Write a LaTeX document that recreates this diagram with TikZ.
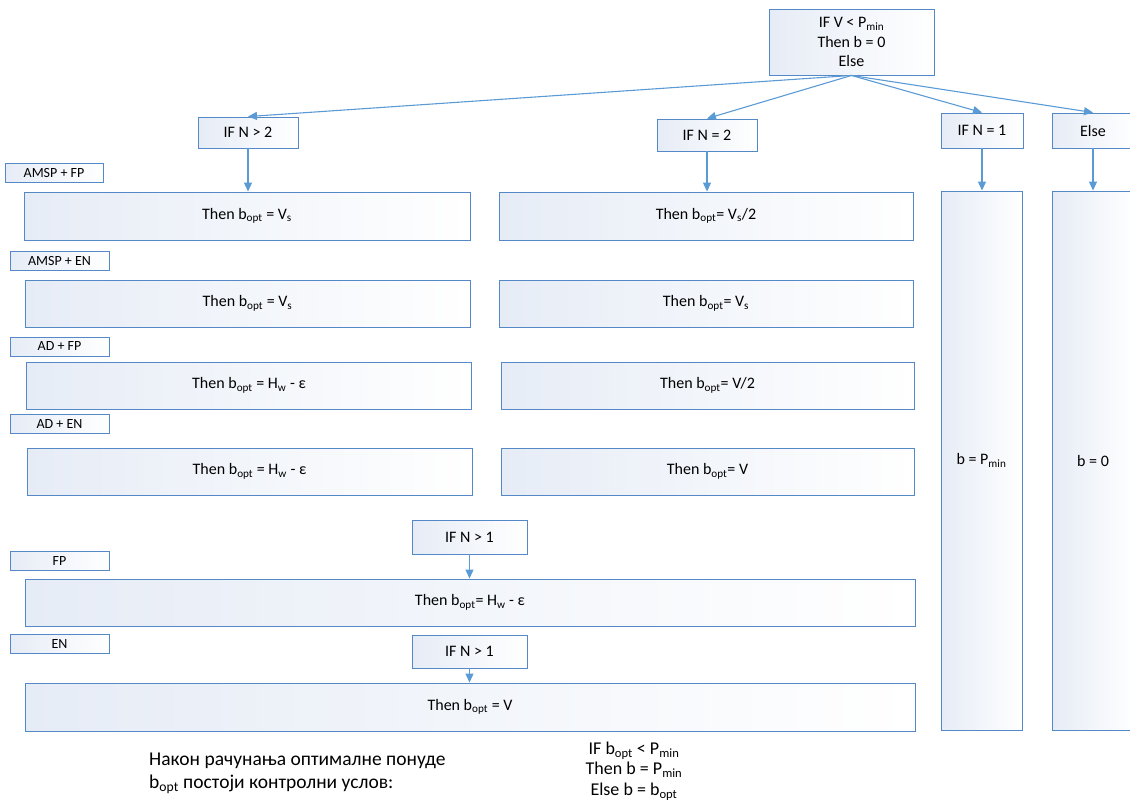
\documentclass[tikz,border=0pt]{standalone}
\usepackage{fontspec}
\setmainfont{Carlito}
\usetikzlibrary{arrows.meta}
\definecolor{edge}{RGB}{84,136,198}
\definecolor{arr}{RGB}{91,155,213}
\definecolor{fillc}{RGB}{230,236,246}
\newcommand{\sbs}[1]{\textsubscript{#1}}
\begin{document}
\begin{tikzpicture}[x=1pt,y=-1pt,
 box/.style={draw=edge, line width=0.9pt, left color=fillc, right color=white, inner sep=0pt, align=center, font=\fontsize{16}{19.5}\selectfont},
 tag/.style={box, font=\fontsize{14}{15}\selectfont, minimum width=99pt, minimum height=19pt},
 conn/.style={draw=arr, line width=1.1pt, -{Triangle[length=9pt,width=8pt]}}
]
\useasboundingbox (0,0) rectangle (1130,801);
% top
\node[box, minimum width=165pt, minimum height=66pt] (top) at (851.5,42) {IF V < P\sbs{min}\\Then b = 0\\Else};
% level 2
\node[box, minimum width=100pt, minimum height=31pt] (n2a) at (248,132.5) {IF N > 2};
\node[box, minimum width=100pt, minimum height=32pt] (n2b) at (707,135) {IF N = 2};
\node[box, minimum width=82pt, minimum height=35pt] (n1) at (982,130.5) {IF N = 1};
\node[box, minimum width=82pt, minimum height=35pt] (ne) at (1093,130.5) {Else};
% tags
\node[tag, minimum width=98pt] (l1) at (54,172.5) {AMSP + FP};
\node[tag] (l2) at (59.5,260.5) {AMSP + EN};
\node[tag] (l3) at (59.5,346.5) {AD + FP};
\node[tag] (l4) at (59.5,424) {AD + EN};
\node[tag] (l5) at (59.5,560.5) {FP};
\node[tag] (l6) at (59.5,643.5) {EN};
% left column
\node[box, minimum width=446pt, minimum height=48pt] (b1) at (247,216) {Then b\sbs{opt} = V\sbs{s}};
\node[box, minimum width=445pt, minimum height=47pt] (b2) at (247.5,303.5) {Then b\sbs{opt} = V\sbs{s}};
\node[box, minimum width=445pt, minimum height=47pt] (b3) at (249,385.5) {Then b\sbs{opt} = H\sbs{w} - ε};
\node[box, minimum width=445pt, minimum height=47pt] (b4) at (249.5,471.5) {Then b\sbs{opt} = H\sbs{w} - ε};
% middle column
\node[box, minimum width=414pt, minimum height=48pt] (m1) at (706,216) {Then b\sbs{opt}= V\sbs{s}/2};
\node[box, minimum width=414pt, minimum height=47pt] (m2) at (706,303.5) {Then b\sbs{opt}= V\sbs{s}};
\node[box, minimum width=413pt, minimum height=47pt] (m3) at (707.5,385.5) {Then b\sbs{opt}= V/2};
\node[box, minimum width=413pt, minimum height=47pt] (m4) at (707.5,471.5) {Then b\sbs{opt}= V};
% right columns
\node[box, minimum width=81pt, minimum height=539pt] (c1) at (981.5,460.5) {b = P\sbs{min}};
\node[box, minimum width=82pt, minimum height=539pt] (c2) at (1093,460.5) {b = 0};
% lower part
\node[box, minimum width=115pt, minimum height=34pt] (k1) at (469.5,537) {IF N > 1};
\node[box, minimum width=890pt, minimum height=47pt] (f1) at (470,602.5) {Then b\sbs{opt}= H\sbs{w} - ε};
\node[box, minimum width=115pt, minimum height=33pt] (k2) at (469.5,651.5) {IF N > 1};
\node[box, minimum width=890pt, minimum height=48pt] (f2) at (470,707) {Then b\sbs{opt} = V};
% texts
\node[anchor=west, align=left, inner sep=0pt, font=\fontsize{19.5}{23}\selectfont] (note) at (149,773.5) {Након рачунања оптималне понуде\\b\sbs{opt} постоји контролни услов:};
\node[align=center, inner sep=0pt, font=\fontsize{18}{20.5}\selectfont] (ctrl) at (634,771) {IF b\sbs{opt} < P\sbs{min}\\Then b = P\sbs{min}\\Else b = b\sbs{opt}};
% connectors
\draw[conn] (top.south) -- (n2a.north);
\draw[conn] (top.south) -- (n2b.north);
\draw[conn] (top.south) -- (n1.north);
\draw[conn] (top.south) -- (ne.north);
\draw[conn] (n2a.south) -- (n2a.south |- b1.north);
\draw[conn] (n2b.south) -- (n2b.south |- m1.north);
\draw[conn] (n1.south) -- (n1.south |- c1.north);
\draw[conn] (ne.south) -- (ne.south |- c2.north);
\draw[conn] (k1.south) -- (k1.south |- f1.north);
\draw[conn] (k2.south) -- (k2.south |- f2.north);
\end{tikzpicture}
\end{document}
